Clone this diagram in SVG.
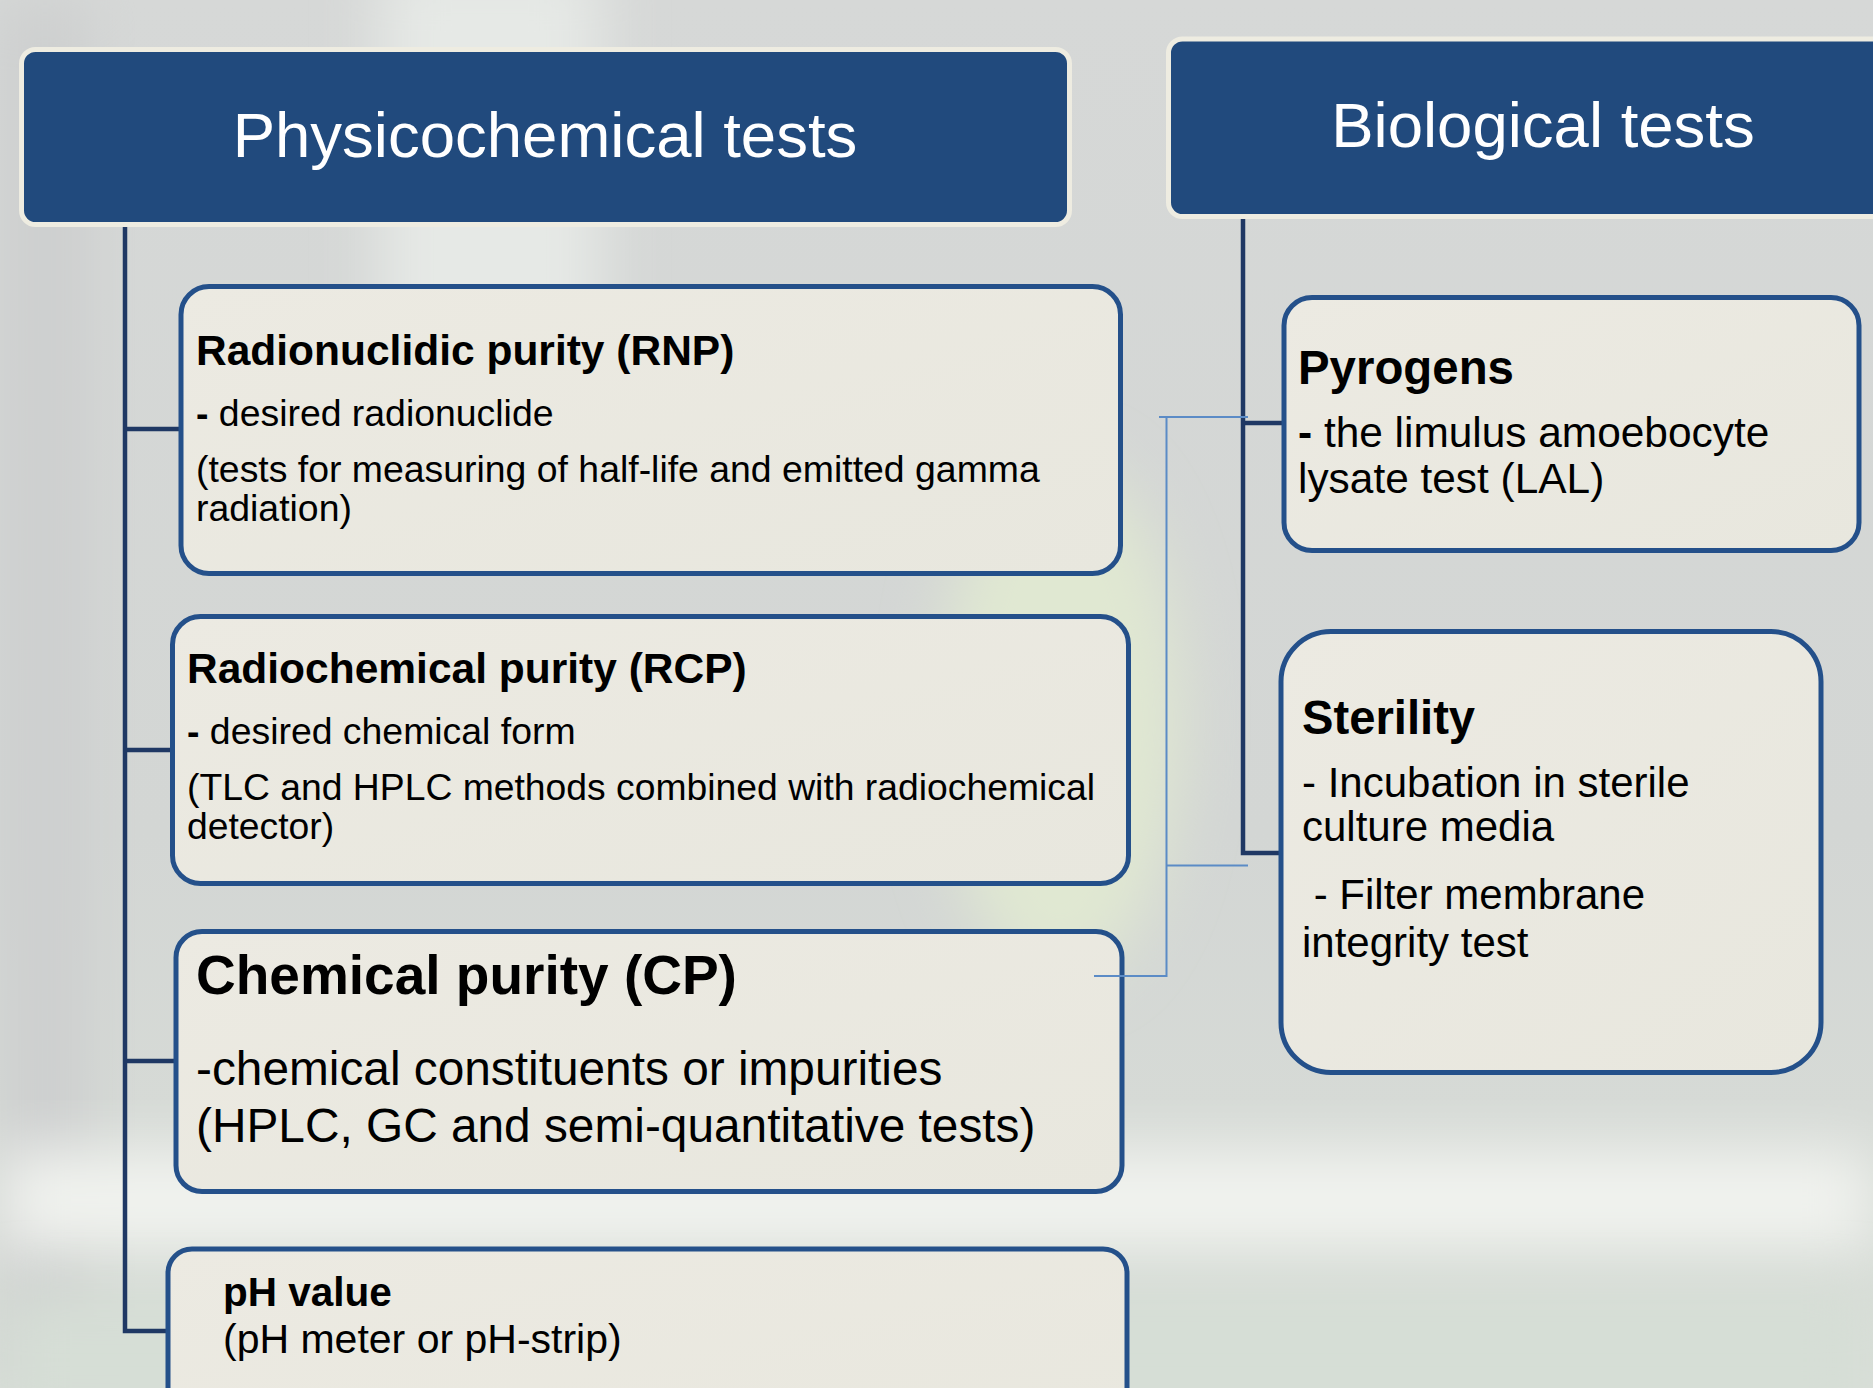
<svg xmlns="http://www.w3.org/2000/svg" width="1873" height="1388" viewBox="0 0 1873 1388">
<defs>
<style>
.hdr{fill:#214A7D;stroke:#EEECE1;stroke-width:5}
.hdrt{font-family:"Liberation Sans",Arial,sans-serif;fill:#FFFFFF;font-size:63.5px;text-anchor:middle}
.box{fill:url(#boxg);stroke:#24508A;stroke-width:5}
.t{font-family:"Liberation Sans",Arial,sans-serif;fill:#000000}
.b{font-weight:bold}
.dk{fill:none;stroke:#1F3864;stroke-width:4.5;stroke-linejoin:miter}
.lt{fill:none;stroke:#5B8BC6;stroke-width:2}
</style>
<linearGradient id="boxg" x1="0" y1="0" x2="1" y2="1">
<stop offset="0" stop-color="#ECEAE2"/>
<stop offset="1" stop-color="#E8E7DE"/>
</linearGradient>
<linearGradient id="bg" x1="0" y1="0" x2="0" y2="1">
<stop offset="0" stop-color="#D6D8D7"/>
<stop offset="0.6" stop-color="#D3D6D4"/>
<stop offset="1" stop-color="#D9DED8"/>
</linearGradient>
<filter id="blur" x="-50%" y="-50%" width="200%" height="200%">
<feGaussianBlur stdDeviation="30"/>
</filter>
</defs>

<g id="background">
<rect x="0" y="0" width="1873" height="1388" fill="url(#bg)"/>
<rect x="380" y="-40" width="220" height="420" fill="#E6E9E6" filter="url(#blur)"/>
<rect x="0" y="0" width="90" height="1388" fill="#CDCFCF" filter="url(#blur)"/>
<ellipse cx="1060" cy="720" rx="120" ry="260" fill="#E0E8D2" filter="url(#blur)"/>
<rect x="0" y="1150" width="1873" height="100" fill="#F1F3EF" filter="url(#blur)"/>
<rect x="0" y="1290" width="1873" height="140" fill="#D6DED6" filter="url(#blur)"/>
</g>

<g id="connectors">
<path class="dk" d="M125,224 V1331 H170"/>
<path class="dk" d="M125,429 H181"/>
<path class="dk" d="M125,750 H173"/>
<path class="dk" d="M125,1061 H177"/>
<path class="dk" d="M1243,217 V853 H1281"/>
<path class="dk" d="M1243,423 H1284"/>
</g>

<g id="node-physicochemical">
<rect class="hdr" x="21.5" y="49.5" width="1048" height="175" rx="14"/>
<text class="hdrt" x="545" y="157">Physicochemical tests</text>
</g>

<g id="node-biological">
<rect class="hdr" x="1168.5" y="39" width="740" height="177.5" rx="14"/>
<text class="hdrt" x="1543" y="147">Biological tests</text>
</g>

<g id="node-rnp">
<rect class="box" x="181" y="286.5" width="939.5" height="287" rx="28"/>
<text class="t b" x="196" y="365" font-size="42.5">Radionuclidic purity (RNP)</text>
<text class="t" x="196" y="426" font-size="37.4"><tspan class="b">-</tspan> desired radionuclide</text>
<text class="t" x="196" y="482" font-size="37.4">(tests for measuring of half-life and emitted gamma</text>
<text class="t" x="196" y="521" font-size="37.4">radiation)</text>
</g>

<g id="node-rcp">
<rect class="box" x="172.5" y="616.5" width="956" height="267" rx="28"/>
<text class="t b" x="187" y="683" font-size="42.5">Radiochemical purity (RCP)</text>
<text class="t" x="187" y="744" font-size="37.4"><tspan class="b">-</tspan> desired chemical form</text>
<text class="t" x="187" y="800" font-size="37.3">(TLC and HPLC methods combined with radiochemical</text>
<text class="t" x="187" y="839" font-size="37.3">detector)</text>
</g>

<g id="node-cp">
<rect class="box" x="176" y="931.5" width="946" height="260" rx="26"/>
<text class="t b" x="196" y="994" font-size="55">Chemical purity (CP)</text>
<text class="t" x="196" y="1085" font-size="47.8">-chemical constituents or impurities</text>
<text class="t" x="196" y="1142" font-size="47.8">(HPLC, GC and semi-quantitative tests)</text>
</g>

<g id="node-ph">
<rect class="box" x="168" y="1249" width="959" height="220" rx="24"/>
<text class="t b" x="223" y="1306" font-size="40.5">pH value</text>
<text class="t" x="223" y="1353" font-size="41">(pH meter or pH-strip)</text>
</g>

<g id="node-pyrogens">
<rect class="box" x="1284" y="297.5" width="575" height="253" rx="28"/>
<text class="t b" x="1298" y="384" font-size="47.4">Pyrogens</text>
<text class="t" x="1298" y="447" font-size="42.4"><tspan class="b">-</tspan> the limulus amoebocyte</text>
<text class="t" x="1298" y="493" font-size="42.4">lysate test (LAL)</text>
</g>

<g id="node-sterility">
<rect class="box" x="1281" y="631.5" width="540" height="441" rx="50"/>
<text class="t b" x="1302" y="734" font-size="47.2">Sterility</text>
<text class="t" x="1302" y="797" font-size="42">- Incubation in sterile</text>
<text class="t" x="1302" y="841" font-size="42">culture media</text>
<text class="t" x="1302" y="909" font-size="42" xml:space="preserve"> - Filter membrane</text>
<text class="t" x="1302" y="957" font-size="42">integrity test</text>
</g>

<g id="thin-connectors">
<path class="lt" d="M1094,976 H1166.5 V417"/>
<path class="lt" d="M1159,417 H1248"/>
<path class="lt" d="M1166.5,865.5 H1248"/>
</g>
</svg>
